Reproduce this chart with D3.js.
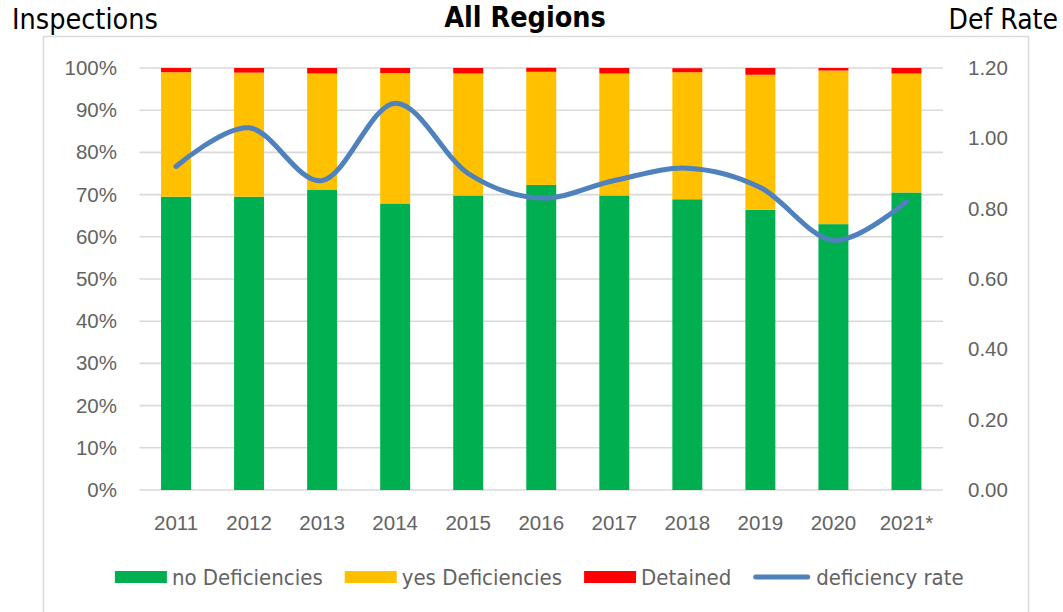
<!DOCTYPE html>
<html>
<head>
<meta charset="utf-8">
<script src="https://cdn.jsdelivr.net/npm/d3@7"></script>
<style>
  html, body { margin: 0; padding: 0; background: #fff; }
  svg { display: block; font-family: "DejaVu Sans Condensed", "DejaVu Sans", sans-serif; font-stretch: condensed; }
</style>
</head>
<body>
<svg id="chart" width="1063" height="612"></svg>
<script>
// ---- data ----
const categories = ["2011","2012","2013","2014","2015","2016","2017","2018","2019","2020","2021*"];
const noDeficiencies  = [69.5, 69.5, 71.1, 67.9, 69.8, 72.3, 69.8, 68.9, 66.4, 63.0, 70.5];
const yesDeficiencies = [29.5, 29.4, 27.6, 30.9, 28.9, 26.8, 28.9, 30.1, 32.0, 36.4, 28.2];
const detained        = [1.0, 1.1, 1.3, 1.2, 1.3, 0.95, 1.3, 0.95, 1.6, 0.6, 1.3];
const deficiencyRate  = [0.92, 1.03, 0.88, 1.10, 0.90, 0.83, 0.88, 0.915, 0.86, 0.71, 0.82];
const leftTicks  = [0, 10, 20, 30, 40, 50, 60, 70, 80, 90, 100];
const rightTicks = [0, 0.2, 0.4, 0.6, 0.8, 1.0, 1.2];
const seriesNames = ["no Deficiencies", "yes Deficiencies", "Detained", "deficiency rate"];
const colors = {"no Deficiencies": "#00B050", "yes Deficiencies": "#FFC000", "Detained": "#FF0000", "deficiency rate": "#4F81BD"};

// ---- layout ----
const svg = d3.select("#chart");
const plot = {left: 139.5, right: 943, top: 68, bottom: 490};
const textColor = "#636363";

const rows = categories.map((c, i) => ({
  cat: c,
  "no Deficiencies": noDeficiencies[i],
  "yes Deficiencies": yesDeficiencies[i],
  "Detained": detained[i]
}));

const x = d3.scaleBand().domain(categories).range([plot.left, plot.right]).paddingInner(0.59).paddingOuter(0.295);
const y = d3.scaleLinear().domain([0, 100]).range([plot.bottom, plot.top]);
const y2 = d3.scaleLinear().domain([0, 1.2]).range([plot.bottom, plot.top]);

// outer frame
svg.append("rect").attr("x", 43.5).attr("y", 36.5).attr("width", 985).attr("height", 600)
  .attr("fill", "#fff").attr("stroke", "#D9D9D9").attr("stroke-width", 1.5);

// gridlines + left axis
const yAxis = d3.axisLeft(y).tickValues(leftTicks).tickFormat(d => d + "%").tickSize(0).tickPadding(0);
const gL = svg.append("g").attr("transform", `translate(117,0)`).call(yAxis);
gL.select(".domain").remove();
gL.selectAll("text").attr("font-size", 20.5).attr("fill", textColor).attr("font-family", null);

svg.append("g").selectAll("line").data(leftTicks).join("line")
  .attr("x1", plot.left).attr("x2", plot.right)
  .attr("y1", d => y(d)).attr("y2", d => y(d))
  .attr("stroke", "#D9D9D9").attr("stroke-width", 1.6);

// right axis
const y2Axis = d3.axisRight(y2).tickValues(rightTicks).tickFormat(d3.format(".2f")).tickSize(0).tickPadding(0);
const gR = svg.append("g").attr("transform", `translate(968,0)`).call(y2Axis);
gR.select(".domain").remove();
gR.selectAll("text").attr("font-size", 20.5).attr("fill", textColor).attr("font-family", null);

// bars
const stack = d3.stack().keys(["no Deficiencies", "yes Deficiencies", "Detained"]);
const layers = stack(rows);
svg.append("g").selectAll("g").data(layers).join("g")
  .attr("fill", d => colors[d.key])
  .selectAll("rect").data(d => d).join("rect")
  .attr("x", d => x(d.data.cat))
  .attr("width", x.bandwidth())
  .attr("y", d => y(d[1]))
  .attr("height", d => y(d[0]) - y(d[1]));

// x axis labels
const xAxis = d3.axisBottom(x).tickSize(0).tickPadding(0);
const gX = svg.append("g").attr("transform", `translate(0,${plot.bottom})`).call(xAxis);
gX.select(".domain").remove();
gX.selectAll("text").attr("font-size", 20.5).attr("fill", textColor).attr("font-family", null)
  .attr("dy", null).attr("y", 40);

// deficiency rate line
const line = d3.line()
  .x((d, i) => x(categories[i]) + x.bandwidth() / 2)
  .y(d => y2(d))
  .curve(d3.curveCardinal.tension(0));
svg.append("path").datum(deficiencyRate)
  .attr("d", line).attr("fill", "none")
  .attr("stroke", colors["deficiency rate"]).attr("stroke-width", 5)
  .attr("stroke-linecap", "round").attr("stroke-linejoin", "round");

// titles
svg.append("text").attr("x", 12).attr("y", 29).attr("font-size", 28.5).attr("fill", "#000").text("Inspections");
svg.append("text").attr("x", 1058).attr("y", 29).attr("text-anchor", "end").attr("font-size", 28).attr("fill", "#000").text("Def Rate");
svg.append("text").attr("x", 525).attr("y", 27).attr("text-anchor", "middle").attr("font-size", 28.5)
  .attr("font-weight", "bold").attr("fill", "#000").text("All Regions");

// legend
const legend = svg.append("g");
const swW = 52, swGap = 5, itemGap = 22, legY = 577;
let cx = 0;
seriesNames.forEach(name => {
  const g = legend.append("g");
  if (name === "deficiency rate") {
    g.append("line").attr("x1", cx + 2.5).attr("x2", cx + swW + 2.5).attr("y1", legY).attr("y2", legY)
      .attr("stroke", colors[name]).attr("stroke-width", 5).attr("stroke-linecap", "round");
  } else {
    g.append("rect").attr("x", cx).attr("y", legY - 6).attr("width", swW).attr("height", 12).attr("fill", colors[name]);
  }
  const extra = name === "deficiency rate" ? 6 : 0;
  const t = g.append("text").attr("x", cx + swW + swGap + extra).attr("y", legY + 8)
    .attr("font-size", 22).attr("fill", textColor).text(name);
  const w = t.node().getComputedTextLength();
  cx += swW + swGap + extra + w + itemGap;
});
const totalW = cx - itemGap;
legend.attr("transform", `translate(${(plot.left + plot.right) / 2 - totalW / 2 - 2},0)`);
</script>
</body>
</html>
